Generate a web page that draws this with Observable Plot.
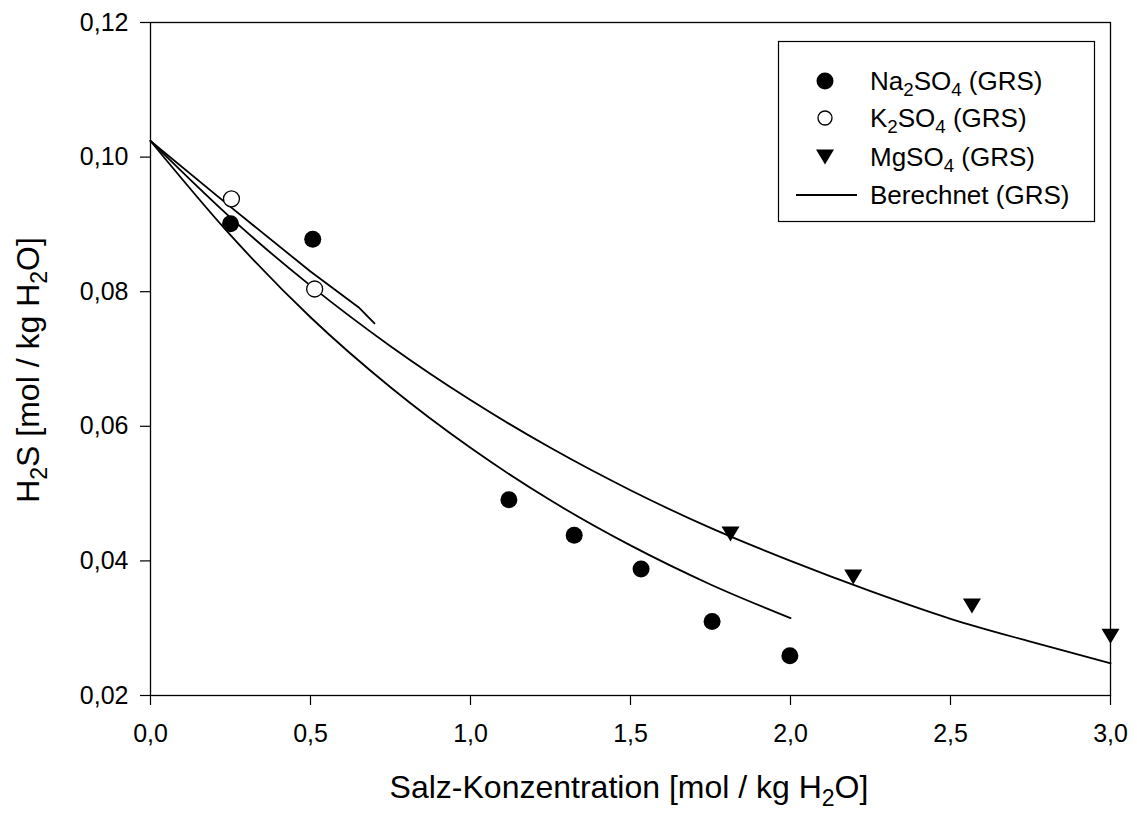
<!DOCTYPE html>
<html><head><meta charset="utf-8">
<script src="https://cdn.jsdelivr.net/npm/d3@7"></script>
<script src="https://cdn.jsdelivr.net/npm/@observablehq/plot@0.6"></script>
<style>body{margin:0;background:#fff;}</style>
</head><body><div id="chart"></div>
<script>
// measured points
const naX = [0.25, 0.507, 1.12, 1.324, 1.533, 1.755, 1.998];
const naY = [0.0901, 0.0878, 0.0491, 0.0438, 0.0388, 0.0310, 0.0259];
const kX = [0.253, 0.513];
const kY = [0.0938, 0.0804];
const mgX = [1.8125, 2.196, 2.567, 3.0];
const mgY = [0.0440, 0.0376, 0.0333, 0.0288];
// calculated curves
const calcNaX = [0, 0.25, 0.5, 0.75, 1.0, 1.25, 1.5, 1.75, 2.0];
const calcNaY = [0.1024, 0.0884, 0.0762, 0.0658, 0.0568, 0.0490, 0.0423, 0.0365, 0.0315];
const calcKX = [0, 0.25, 0.5, 0.65, 0.70];
const calcKY = [0.1024, 0.0926, 0.0830, 0.0777, 0.0753];
const calcMgX = [0, 0.25, 0.5, 0.75, 1.0, 1.25, 1.5, 1.75, 2.0, 2.25, 2.5, 2.75, 3.0];
const calcMgY = [0.1024, 0.0910, 0.0809, 0.0719, 0.0639, 0.0568, 0.0505, 0.0449, 0.0400, 0.0355, 0.0314, 0.0280, 0.0248];
// ticks
const xTicks = [0, 0.5, 1.0, 1.5, 2.0, 2.5, 3.0];
const yTicks = [0.02, 0.04, 0.06, 0.08, 0.10, 0.12];
const legendLabels = [
  [["Na"], ["2", true], ["SO"], ["4", true], [" (GRS)"]],
  [["K"], ["2", true], ["SO"], ["4", true], [" (GRS)"]],
  [["MgSO"], ["4", true], [" (GRS)"]],
  [["Berechnet (GRS)"]]
];
const xTitle = [["Salz-Konzentration [mol / kg H"], ["2", true], ["O]"]];
const yTitle = [["H"], ["2", true], ["S [mol / kg H"], ["2", true], ["O]"]];

const zip = (xs, ys) => xs.map((x, i) => ({x, y: ys[i]}));
const fmtX = d => d.toFixed(1).replace(".", ",");
const fmtY = d => d.toFixed(2).replace(".", ",");

const triDown = {
  draw(ctx, size) {
    ctx.moveTo(-9, -7.5);
    ctx.lineTo(9, -7.5);
    ctx.lineTo(0, 7.5);
    ctx.closePath();
  }
};

const font = "'Liberation Sans', Arial, Helvetica, sans-serif";

const plot = Plot.plot({
  width: 1137,
  height: 814,
  marginLeft: 150,
  marginRight: 27,
  marginTop: 22,
  marginBottom: 119,
  style: {fontFamily: font, fontSize: "25px", color: "#000", background: "#fff"},
  x: {domain: [0, 3]},
  y: {domain: [0.02, 0.12]},
  marks: [
    Plot.axisX({ticks: xTicks, tickFormat: fmtX, tickSize: 10, tickPadding: 19, label: null, stroke: "#000", strokeWidth: 1.2}),
    Plot.axisY({ticks: yTicks, tickFormat: fmtY, tickSize: 10, tickPadding: 12, label: null, stroke: "#000", strokeWidth: 1.2}),
    Plot.frame({stroke: "#000", strokeWidth: 1.3}),
    Plot.line(zip(calcNaX, calcNaY), {x: "x", y: "y", stroke: "#000", strokeWidth: 1.8, curve: "monotone-x"}),
    Plot.line(zip(calcKX, calcKY), {x: "x", y: "y", stroke: "#000", strokeWidth: 1.8}),
    Plot.line(zip(calcMgX, calcMgY), {x: "x", y: "y", stroke: "#000", strokeWidth: 1.8, curve: "monotone-x"}),
    Plot.dot(zip(naX, naY), {x: "x", y: "y", r: 8.5, fill: "#000", stroke: "none"}),
    Plot.dot(zip(kX, kY), {x: "x", y: "y", r: 8, fill: "#fff", stroke: "#000", strokeWidth: 1.3}),
    Plot.dot(zip(mgX, mgY), {x: "x", y: "y", symbol: triDown, fill: "#000", stroke: "none"})
  ]
});
document.getElementById("chart").appendChild(plot);

const svg = d3.select(plot);
function richText(g, x, y, parts, fs, anchor, rotate) {
  const t = g.append("text")
    .attr("font-family", font).attr("font-size", fs).attr("fill", "#000")
    .attr("text-anchor", anchor);
  if (rotate) t.attr("transform", `translate(${x},${y}) rotate(-90)`);
  else t.attr("x", x).attr("y", y);
  let prevSub = false;
  parts.forEach(([s, sub]) => {
    const ts = t.append("tspan").text(s);
    if (sub) { ts.attr("dy", fs * 0.24).attr("font-size", fs * 0.72); prevSub = true; }
    else if (prevSub) { ts.attr("dy", -fs * 0.24); prevSub = false; }
  });
  return t;
}

richText(svg, 629, 798, xTitle, 32, "middle", false);
richText(svg, 39, 370, yTitle, 32, "middle", true);

// legend
const lg = svg.append("g");
lg.append("rect").attr("x", 778.5).attr("y", 41.5).attr("width", 316).attr("height", 180)
  .attr("fill", "#fff").attr("stroke", "#000").attr("stroke-width", 1.2);
const rows = [81, 118, 157, 195];
lg.append("circle").attr("cx", 825).attr("cy", rows[0]).attr("r", 8.5).attr("fill", "#000");
lg.append("circle").attr("cx", 825).attr("cy", rows[1]).attr("r", 7).attr("fill", "#fff").attr("stroke", "#000").attr("stroke-width", 1.3);
lg.append("path").attr("d", `M816,${rows[2]-7.5}L834,${rows[2]-7.5}L825,${rows[2]+7.5}Z`).attr("fill", "#000");
lg.append("line").attr("x1", 796).attr("x2", 857).attr("y1", rows[3]).attr("y2", rows[3]).attr("stroke", "#000").attr("stroke-width", 1.8);
legendLabels.forEach((parts, i) => {
  richText(lg, 870, rows[i] + 9, parts, 26, "start", false);
});
</script>
</body></html>
